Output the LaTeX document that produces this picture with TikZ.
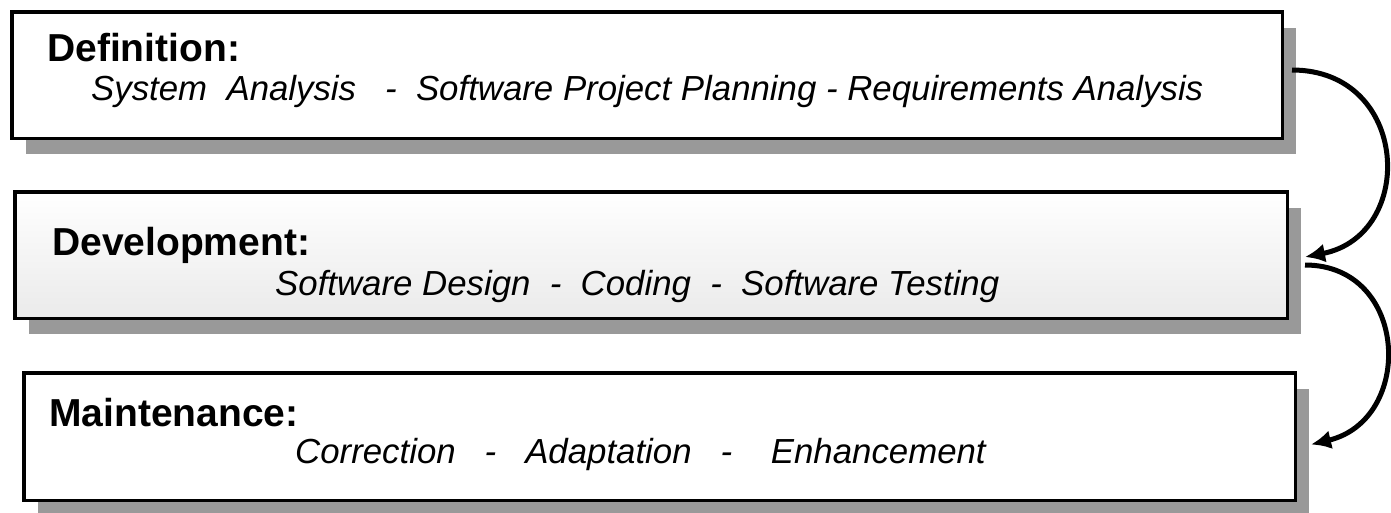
\documentclass[tikz,border=0pt]{standalone}
\usepackage{fontspec}
\setmainfont{Liberation Sans}
\usetikzlibrary{shadows,arrows.meta,calc}
\definecolor{shadowgray}{HTML}{999999}
\definecolor{boxbottom}{HTML}{EAEAEA}
\tikzset{
  phasebox/.style={draw=black, line width=3.5pt, rectangle, inner sep=0pt,
    drop shadow={shadow xshift=14pt, shadow yshift=-16pt, fill=shadowgray, opacity=1}},
  headtext/.style={anchor=base west, inner sep=0pt, font=\fontsize{39}{46}\selectfont\bfseries},
  itemtext/.style={anchor=base west, inner sep=0pt, font=\fontsize{34.8}{42}\selectfont\itshape},
  flowarrow/.style={line width=5pt, -{Latex[length=20pt,width=19pt]}}
}
\begin{document}
\begin{tikzpicture}[x=1pt,y=-1pt]
\useasboundingbox (0,0) rectangle (1391,512);
\clip (0,0) rectangle (1391,512);
\fill[white] (0,0) rectangle (1391,512);

\node[phasebox, fill=white, minimum width=1270.5pt, minimum height=126.5pt] (def) at (647,75) {};
\node[phasebox, top color=white, bottom color=boxbottom, minimum width=1272.5pt, minimum height=126.5pt] (dev) at (651,255) {};
\node[phasebox, fill=white, minimum width=1271.5pt, minimum height=127.5pt] (mnt) at (659.5,436.5) {};

\node[headtext] (defh) at (47,61) {Definition:};
\node[itemtext] (defi) at (91,100) {System~~Analysis~~~-~~Software Project Planning - Requirements Analysis};

\node[headtext] (devh) at (52,255) {Development:};
\node[itemtext] (devi) at (275,295) {Software Design~~-~~Coding~~-~~Software Testing};

\node[headtext] (mnth) at (49,426) {Maintenance:};
\node[itemtext] (mnti) at (295,463) {Correction~~~-~~~Adaptation~~~-~~~~Enhancement};

\coordinate (s1) at ([shift={(8,-5)}]def.east);
\coordinate (e1) at ([shift={(16,2)}]dev.east);
\coordinate (s2) at ([shift={(16,10)}]dev.east);
\coordinate (e2) at ([shift={(14,8)}]mnt.east);

\draw[flowarrow] (s1) .. controls +(118,0) and +(112,-22) .. (e1);
\draw[flowarrow] (s2) .. controls +(104,0) and +(104,-25) .. (e2);
\end{tikzpicture}
\end{document}
